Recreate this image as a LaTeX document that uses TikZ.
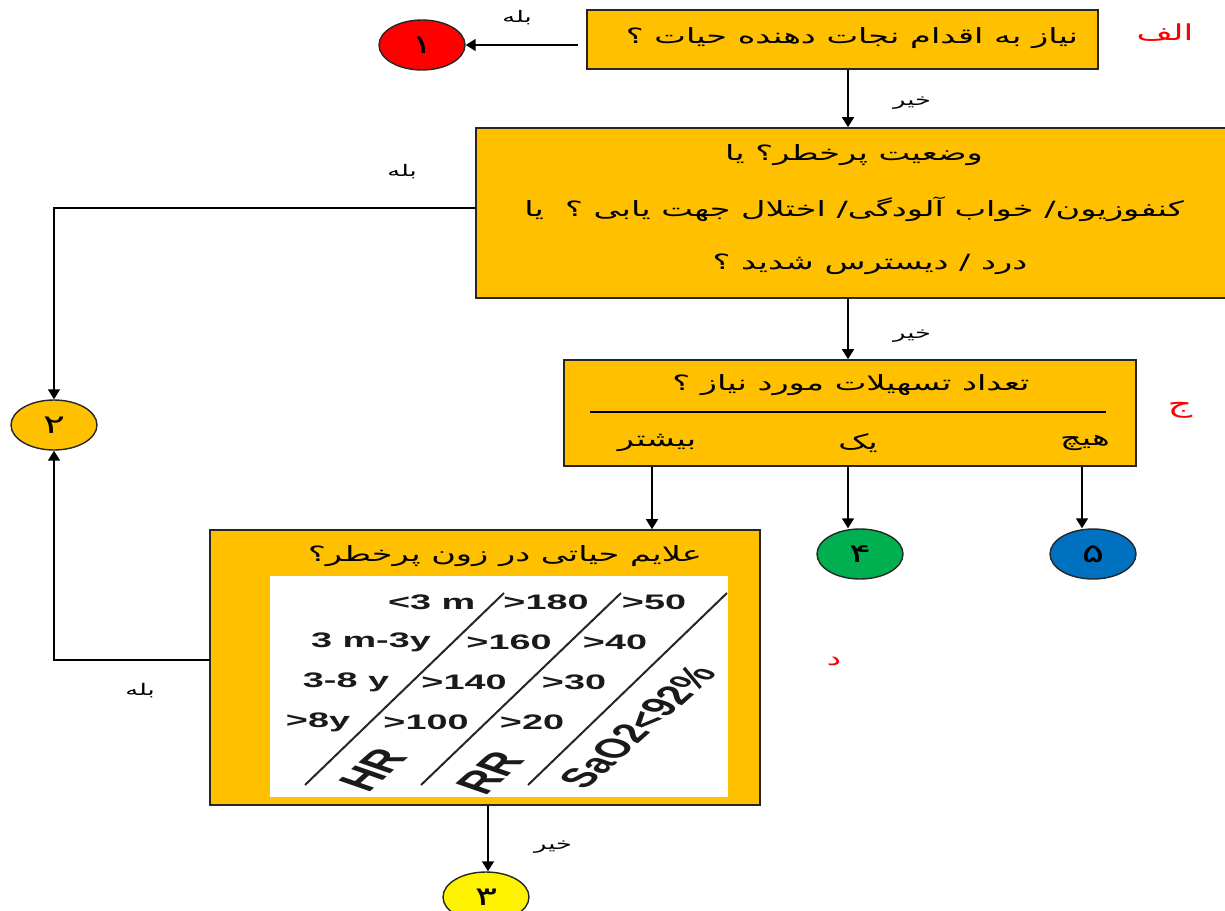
\documentclass[tikz,border=0pt]{standalone}
\usepackage{fontspec}
\usetikzlibrary{arrows.meta,shapes.geometric}
\TeXXeTstate=1
\newfontfamily\arabicfont[Script=Arabic]{DejaVu Sans}
\setsansfont{Liberation Sans}
\definecolor{boxor}{HTML}{FFC000}
\definecolor{cgreen}{HTML}{00B050}
\definecolor{cblue}{HTML}{0070C0}
\definecolor{tabtext}{HTML}{1A1A1A}
\newcommand{\fa}[2]{\scalebox{1.6}[1]{\fontsize{#1}{#1}\selectfont\arabicfont #2}}
\newcommand{\tb}[2]{{\fontsize{#1}{#1}\selectfont\sffamily\bfseries #2}}
\begin{document}
\begin{tikzpicture}[x=0.5pt,y=-0.5pt,
  box/.style={draw=black!85, line width=0.8pt, fill=boxor, inner sep=0pt},
  circ/.style={ellipse, draw=black!85, line width=0.7pt, inner sep=0pt, minimum width=43pt, minimum height=25pt},
  arr/.style={-{Triangle[length=5pt,width=6pt]}, line width=0.75pt},
  lbl/.style={inner sep=0pt},
  redl/.style={inner sep=0pt, text=red},
  tline/.style={line width=1pt, draw=black!85},
  ttxt/.style={inner sep=0pt, text=tabtext, transform shape}
]
\useasboundingbox (0,0) rectangle (1225,910);
% boxes
\node[box, minimum width=255.5pt, minimum height=29.5pt] (A) at (842.5,39.5) {};
\node[box, minimum width=376pt, minimum height=85pt] (B) at (852,213) {};
\node[box, minimum width=286pt, minimum height=53pt] (C) at (850,413) {};
\node[box, minimum width=275pt, minimum height=137.5pt] (D) at (485,667.5) {};
\node[fill=white, inner sep=0pt, minimum width=229pt, minimum height=110.5pt] (T) at (499,686.5) {};
% circles
\node[circ, fill=red] (c1) at (422,45) {\fa{13pt}{۱}};
\node[circ, fill=boxor] (c2) at (54,425) {\fa{13pt}{۲}};
\node[circ, fill=yellow] (c3) at (486,897) {\fa{13pt}{۳}};
\node[circ, fill=cgreen] (c4) at (860,554) {\fa{13pt}{۴}};
\node[circ, fill=cblue] (c5) at (1093,554) {\fa{13pt}{۵}};
% box texts
\node[lbl] (a1t) at (852,38) {\fa{10.5pt}{\beginR نیاز به اقدام نجات دهنده حیات ؟\endR}};
\node[lbl] (b1t) at (854,155) {\fa{10.5pt}{\beginR وضعیت پرخطر؟ یا\endR}};
\node[lbl] (b2t) at (854,209) {\fa{10.5pt}{\beginR کنفوزیون\kern0pt/ خواب آلودگی\kern0pt/ اختلال جهت یابی ؟\ \ یا\endR}};
\node[lbl] (b3t) at (870,264) {\fa{10.5pt}{\beginR درد / دیسترس شدید ؟\endR}};
\node[lbl] (c1t) at (851,385) {\fa{10.5pt}{\beginR تعداد تسهیلات مورد نیاز ؟\endR}};
\draw[line width=0.6pt] (590,412) -- (1106,412);
\node[lbl] (o1) at (657,443) {\fa{10.5pt}{\beginR بیشتر\endR}};
\node[lbl] (o2) at (858,443) {\fa{10.5pt}{\beginR یک\endR}};
\node[lbl] (o3) at (1085,443) {\fa{10.5pt}{\beginR هیچ\endR}};
\node[lbl] (d1t) at (505,556) {\fa{10.5pt}{\beginR علایم حیاتی در زون پرخطر؟\endR}};
% side labels
\node[redl] (la) at (1165,33) {\fa{11pt}{\beginR الف\endR}};
\node[redl] (lc) at (1180,410) {\fa{12pt}{\beginR ج\endR}};
\node[redl] (ld) at (834,662) {\fa{10pt}{\beginR د\endR}};
\node[lbl] (y1) at (517,18) {\fa{8pt}{\beginR بله\endR}};
\node[lbl] (y2) at (402,172) {\fa{8pt}{\beginR بله\endR}};
\node[lbl] (y3) at (140,691) {\fa{8pt}{\beginR بله\endR}};
\node[lbl] (n1) at (912,103) {\fa{8pt}{\beginR خیر\endR}};
\node[lbl] (n2) at (912,336) {\fa{8pt}{\beginR خیر\endR}};
\node[lbl] (n3) at (553,847) {\fa{8pt}{\beginR خیر\endR}};
% connectors
\coordinate (sp) at (848,0);
\coordinate (sq) at (652,0);
\coordinate (sr) at (1082,0);
\coordinate (ss) at (488,0);
\coordinate (aw) at (578,45);
\coordinate (bw) at (476,208);
\coordinate (dw) at (210,660);
\draw[arr] (aw) -- (c1.east);
\draw[arr] (A.south -| sp) -- (B.north -| sp);
\draw[arr] (B.south -| sp) -- (C.north -| sp);
\draw[arr] (bw) -- (bw -| c2) -- (c2.north);
\draw[arr] (dw) -- (dw -| c2) -- (c2.south);
\draw[arr] (C.south -| sq) -- (D.north -| sq);
\draw[arr] (C.south -| sp) -- (sp |- c4.north);
\draw[arr] (C.south -| sr) -- (sr |- c5.north);
\draw[arr] (D.south -| ss) -- (ss |- c3.north);
% table lines
\draw[tline] (305,785) -- (504,593);
\draw[tline] (421,785) -- (621,593);
\draw[tline] (528,785) -- (727,593);
% table texts (stretched horizontally like the reference)
\begin{scope}[xscale=1.8]
\node[ttxt, anchor=east] (r11) at ({476/1.8},602) {\tb{10.5pt}{<3 m}};
\node[ttxt] (r12) at ({546/1.8},602) {\tb{10.5pt}{>180}};
\node[ttxt] (r13) at ({654/1.8},602) {\tb{10.5pt}{>50}};
\node[ttxt] (r21) at ({371/1.8},642) {\tb{10.5pt}{3 m-3y}};
\node[ttxt] (r22) at ({509/1.8},642) {\tb{10.5pt}{>160}};
\node[ttxt] (r23) at ({615/1.8},642) {\tb{10.5pt}{>40}};
\node[ttxt] (r31) at ({346/1.8},682) {\tb{10.5pt}{3-8 y}};
\node[ttxt] (r32) at ({464/1.8},682) {\tb{10.5pt}{>140}};
\node[ttxt] (r33) at ({574/1.8},682) {\tb{10.5pt}{>30}};
\node[ttxt] (r41) at ({318/1.8},722) {\tb{10.5pt}{>8y}};
\node[ttxt] (r42) at ({426/1.8},722) {\tb{10.5pt}{>100}};
\node[ttxt] (r43) at ({532/1.8},722) {\tb{10.5pt}{>20}};
\node[ttxt, rotate=58] (hr) at ({373/1.8},770) {\tb{15pt}{HR}};
\node[ttxt, rotate=58] (rr) at ({490/1.8},773) {\tb{15pt}{RR}};
\node[ttxt, rotate=58] (sa) at ({638/1.8},727) {\tb{13.5pt}{SaO2<92\%}};
\end{scope}
\end{tikzpicture}
\end{document}
